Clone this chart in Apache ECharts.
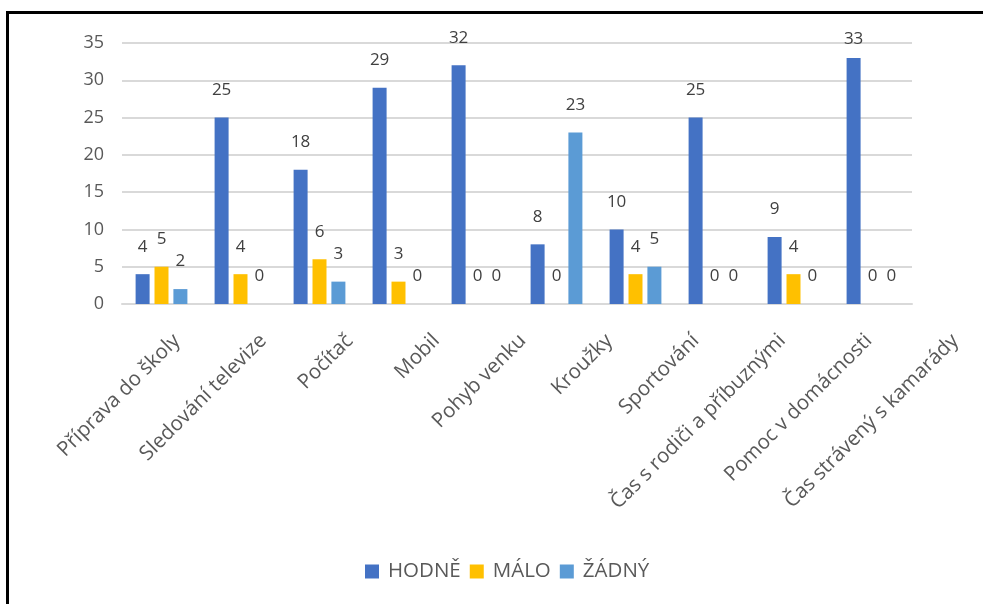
<!DOCTYPE html>
<html>
<head>
<meta charset="utf-8">
<script src="https://cdn.jsdelivr.net/npm/echarts@6/dist/echarts.min.js"></script>
<style>
  body { margin: 0; background: #fff; }
  #chart { position: absolute; left: 0; top: 0; width: 983px; height: 604px; }
  #frame { position: absolute; left: 6px; top: 11px; right: 0; bottom: 0;
           border-left: 3px solid #000; border-top: 3px solid #000; pointer-events: none; }
</style>
</head>
<body>
<div id="chart"></div>
<div id="frame"></div>
<script>
  var categories = ['Příprava do školy', 'Sledování televize', 'Počítač', 'Mobil', 'Pohyb venku',
                    'Kroužky', 'Sportování', 'Čas s rodiči a příbuznými', 'Pomoc v domácnosti', 'Čas strávený s kamarády'];
  var hodne = [4, 25, 18, 29, 32, 8, 10, 25, 9, 33];
  var malo = [5, 4, 6, 3, 0, 0, 4, 0, 4, 0];
  var zadny = [2, 0, 3, 0, 0, 23, 5, 0, 0, 0];
  var seriesNames = ['HODNĚ', 'MÁLO', 'ŽÁDNÝ'];

  var chart = echarts.init(document.getElementById('chart'));
  var font = 'Open Sans, Noto Sans, sans-serif';
  var colors = ['#4472c4', '#ffc000', '#5b9bd5'];

  function bar(name, data) {
    return {
      name: name,
      type: 'bar',
      // labels near the top edge get pulled inside the plot, like the original
      data: data.map(function (v) {
        return v >= 33 ? { value: v, label: { distance: 10 } } : v;
      }),
      barWidth: 14,
      barGap: '35%',
      label: {
        show: true,
        position: 'top',
        distance: 19,
        color: '#404040',
        fontSize: 17,
        fontFamily: font
      }
    };
  }

  chart.setOption({
    animation: false,
    color: colors,
    textStyle: { fontFamily: font },
    grid: [
      { left: 122, right: 71, top: 43, bottom: 300 },
      // wider band used only for the slanted category texts
      { left: 118, right: 0, top: 43, bottom: 300 }
    ],
    legend: {
      bottom: 17,
      left: 360,
      itemWidth: 14,
      itemHeight: 14,
      itemGap: 9,
      icon: 'rect',
      textStyle: { color: '#595959', fontSize: 20.5, fontFamily: font, padding: [0, 0, 0, 4] },
      data: seriesNames
    },
    xAxis: [{
      type: 'category',
      gridIndex: 0,
      data: categories,
      axisTick: { show: false },
      axisLine: { lineStyle: { color: '#d9d9d9', width: 2 } },
      axisLabel: { show: false }
    }, {
      type: 'category',
      gridIndex: 1,
      data: categories,
      axisTick: { show: false },
      axisLine: { show: false },
      axisLabel: {
        rotate: 45,
        interval: 0,
        margin: 18,
        verticalAlign: 'top',
        lineHeight: 44,
        color: '#595959',
        fontSize: 20.5,
        fontFamily: font
      }
    }],
    yAxis: [{
      type: 'value',
      gridIndex: 0,
      min: 0,
      max: 35,
      interval: 5,
      axisLine: { show: false },
      axisTick: { show: false },
      splitLine: { lineStyle: { color: '#d9d9d9', width: 2 } },
      axisLabel: { color: '#595959', fontSize: 18, margin: 18, fontFamily: font }
    }, {
      type: 'value',
      gridIndex: 1,
      show: false
    }],
    series: [
      bar(seriesNames[0], hodne),
      bar(seriesNames[1], malo),
      bar(seriesNames[2], zadny)
    ]
  });
</script>
</body>
</html>
